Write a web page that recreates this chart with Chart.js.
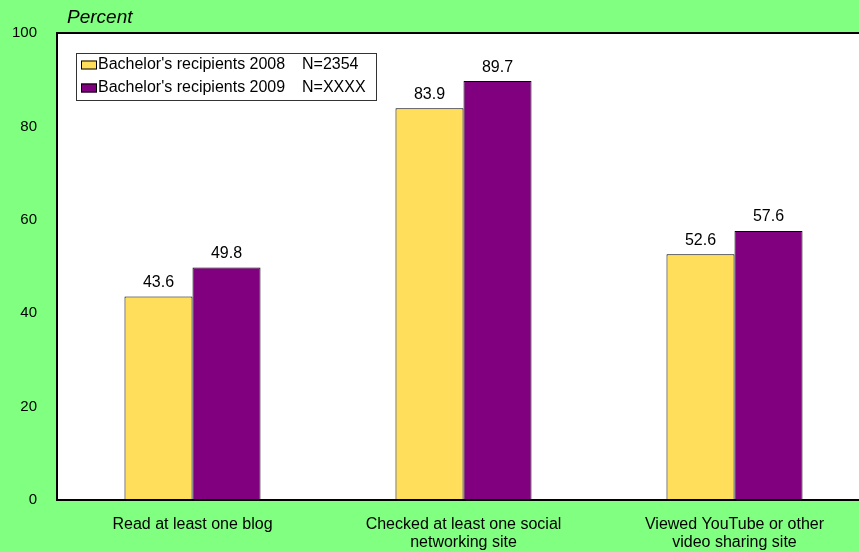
<!DOCTYPE html>
<html>
<head>
<meta charset="utf-8">
<script src="https://cdn.jsdelivr.net/npm/chart.js@4"></script>
<style>
  html, body { margin: 0; padding: 0; overflow: hidden; background: #80ff80; }
  #wrap { width: 871px; height: 552px; position: relative; }
</style>
</head>
<body>
<div id="wrap"><canvas id="chart"></canvas></div>
<script>
// chart data
const categories = [
  ["Read at least one blog"],
  ["Checked at least one social", "networking site"],
  ["Viewed YouTube or other", "video sharing site"]
];
const seriesNames = ["Bachelor's recipients 2008", "Bachelor's recipients 2009"];
const seriesN = ["N=2354", "N=XXXX"];
const values2008 = [43.6, 83.9, 52.6];
const values2009 = [49.8, 89.7, 57.6];
const yTicks = [0, 20, 40, 60, 80, 100];

const FONT = "'Liberation Sans', Arial, sans-serif";
const colors = ["#ffde5c", "#800080"];

// white plot area + frame + value labels + legend + axis title
const decorations = {
  id: "decorations",
  beforeDatasetsDraw(chart) {
    const { ctx, chartArea: a } = chart;
    ctx.save();
    ctx.fillStyle = "#ffffff";
    ctx.fillRect(a.left, a.top, a.right - a.left, a.bottom - a.top);
    ctx.restore();
  },
  afterDatasetsDraw(chart) {
    const { ctx, chartArea: a } = chart;
    ctx.save();

    // value labels
    ctx.fillStyle = "#000";
    ctx.font = "16px " + FONT;
    ctx.textAlign = "center";
    ctx.textBaseline = "bottom";
    chart.data.datasets.forEach((ds, i) => {
      chart.getDatasetMeta(i).data.forEach((bar, j) => {
        ctx.fillText(ds.data[j].toFixed(1), bar.x, bar.y - 6);
      });
    });

    // frame
    ctx.strokeStyle = "#000";
    ctx.lineWidth = 2;
    ctx.strokeRect(a.left, a.top, a.right - a.left, a.bottom - a.top);

    // legend
    ctx.lineWidth = 1;
    ctx.strokeStyle = "#333";
    ctx.strokeRect(76.5, 53.5, 300, 47);
    ctx.textAlign = "left";
    ctx.textBaseline = "middle";
    seriesNames.forEach((name, i) => {
      const y = 65 + i * 23;
      ctx.fillStyle = colors[i];
      ctx.fillRect(81, y - 4.5, 16, 9);
      ctx.strokeStyle = "#000";
      ctx.strokeRect(81.5, y - 4, 15, 8);
      ctx.fillStyle = "#000";
      ctx.fillText(name, 98, y);
      ctx.fillText(seriesN[i], 302, y);
    });

    // axis title
    ctx.font = "italic 19px " + FONT;
    ctx.textBaseline = "middle";
    ctx.fillText("Percent", 67, 18);
    ctx.restore();
  }
};

new Chart(document.getElementById("chart"), {
  type: "bar",
  data: {
    labels: categories,
    datasets: [
      {
        label: seriesNames[0],
        data: values2008,
        backgroundColor: colors[0],
        borderColor: "#000",
        borderWidth: 1
      },
      {
        label: seriesNames[1],
        data: values2009,
        backgroundColor: colors[1],
        borderColor: "#000",
        borderWidth: 1
      }
    ]
  },
  options: {
    responsive: true,
    maintainAspectRatio: false,
    animation: false,
    layout: { padding: { top: 33, right: 1, left: 0, bottom: 0 } },
    plugins: {
      legend: { display: false },
      tooltip: { enabled: false }
    },
    datasets: {
      bar: { categoryPercentage: 0.502, barPercentage: 1 }
    },
    scales: {
      x: {
        grid: { display: false, drawTicks: false },
        border: { display: false },
        ticks: {
          color: "#000",
          font: { family: FONT, size: 16, lineHeight: 1.125 },
          padding: 16,
          maxRotation: 0,
          autoSkip: false
        },
        afterFit(scale) { scale.height = 52; }
      },
      y: {
        min: 0,
        max: 100,
        grid: { display: false, drawTicks: false },
        border: { display: false },
        afterBuildTicks(scale) { scale.ticks = yTicks.map(v => ({ value: v })); },
        ticks: {
          color: "#000",
          font: { family: FONT, size: 15 },
          padding: 20
        },
        afterFit(scale) { scale.width = 57; }
      }
    }
  },
  plugins: [decorations]
});
</script>
</body>
</html>
